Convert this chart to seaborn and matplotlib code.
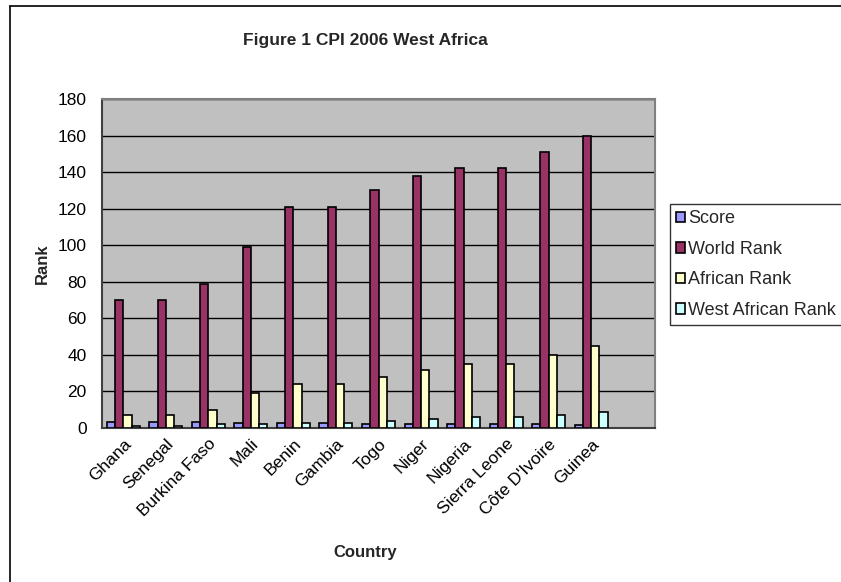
import matplotlib
matplotlib.use("Agg")
import matplotlib.pyplot as plt
import seaborn as sns
import pandas as pd
from matplotlib.lines import Line2D

countries = ["Ghana", "Senegal", "Burkina Faso", "Mali", "Benin", "Gambia", "Togo",
             "Niger", "Nigeria", "Sierra Leone", "Côte D'Ivoire", "Guinea"]
score = [3.3, 3.3, 3.2, 2.8, 2.5, 2.5, 2.4, 2.3, 2.2, 2.2, 2.1, 1.9]
world_rank = [70, 70, 79, 99, 121, 121, 130, 138, 142, 142, 151, 160]
african_rank = [7, 7, 10, 19, 24, 24, 28, 32, 35, 35, 40, 45]
west_african_rank = [1, 1, 2, 2, 3, 3, 4, 5, 6, 6, 7, 9]
series_names = ["Score", "World Rank", "African Rank", "West African Rank"]
colors = ["#9999FF", "#993366", "#FFFFCC", "#CCFFFF"]
y_ticks = [0, 20, 40, 60, 80, 100, 120, 140, 160, 180]

rows = []
for name, vals in zip(series_names, [score, world_rank, african_rank, west_african_rank]):
    for c, v in zip(countries, vals):
        rows.append({"Country": c, "Series": name, "Value": v})
df = pd.DataFrame(rows)

sns.set_theme(style="white")
plt.rcParams["font.family"] = ["Liberation Sans", "DejaVu Sans"]

fig = plt.figure(figsize=(8.41, 5.82), dpi=100)
ax = fig.add_axes([102 / 841, 1 - 428 / 582, (655 - 102) / 841, (428 - 99) / 582])

order = countries + [""]
sns.barplot(data=df, x="Country", y="Value", hue="Series", order=order,
            hue_order=series_names, palette=colors, width=0.776, gap=0,
            edgecolor="black", linewidth=1.2, saturation=1, ax=ax, legend=False,
            zorder=3)

ax.set_facecolor("#C0C0C0")
ax.set_ylim(0, 180)
ax.set_xlim(-0.5, len(order) - 0.5)
ax.set_yticks(y_ticks)
ax.set_yticklabels([str(t) for t in y_ticks], fontsize=12.5)
ax.yaxis.grid(True, color="black", linewidth=1.0, zorder=0)
ax.set_axisbelow(True)

# category ticks at slot boundaries, labels at slot centres
ax.set_xticks([i + 0.5 for i in range(len(order) - 1)])
ax.set_xticklabels([])
ax.set_xticks(range(len(countries)), minor=True)
ax.set_xticklabels(countries, minor=True, rotation=45, ha="right",
                   rotation_mode="anchor", fontsize=12.5)
ax.tick_params(axis="x", which="minor", length=0, pad=6)
ax.tick_params(axis="x", which="major", length=5, width=1, direction="out")
ax.tick_params(axis="y", length=6, width=1, direction="out", pad=5)
ax.tick_params(axis="both", which="both", colors="#333333", labelcolor="black")

for s in ["top", "right"]:
    ax.spines[s].set_color("#808080")
    ax.spines[s].set_linewidth(1.5)
for s in ["left", "bottom"]:
    ax.spines[s].set_color("#404040")
    ax.spines[s].set_linewidth(1.5)

ax.set_xlabel("")
ax.set_ylabel("")

fig.text(365 / 841, 1 - 41 / 582, "Figure 1 CPI 2006 West Africa", ha="center",
         va="center", fontsize=12.5, fontweight="bold")
fig.text(42 / 841, 1 - 264 / 582, "Rank", ha="center", va="center", rotation=90,
         fontsize=12, fontweight="bold")
fig.text(365 / 841, 1 - 552 / 582, "Country", ha="center", va="center",
         fontsize=12, fontweight="bold")

handles = [plt.Rectangle((0, 0), 1, 1, facecolor=c, edgecolor="black", linewidth=1.2)
           for c in colors]
leg = fig.legend(handles, series_names, loc="upper left",
                 bbox_to_anchor=(670 / 841, 1 - 204 / 582), bbox_transform=fig.transFigure,
                 fontsize=13, frameon=True, fancybox=False, handlelength=0.5,
                 handleheight=0.5, handletextpad=0.15, labelspacing=0.75,
                 borderpad=0.35, borderaxespad=0)
leg.get_frame().set_edgecolor("black")
leg.get_frame().set_linewidth(1.0)

# outer chart border (right and bottom edges lie outside the picture)
fig.add_artist(Line2D([10 / 841, 10 / 841], [0, 1 - 6 / 582], transform=fig.transFigure,
                      color="black", linewidth=1.2))
fig.add_artist(Line2D([10 / 841, 1], [1 - 6 / 582, 1 - 6 / 582], transform=fig.transFigure,
                      color="black", linewidth=1.2))

fig.savefig("out.png", dpi=100)
